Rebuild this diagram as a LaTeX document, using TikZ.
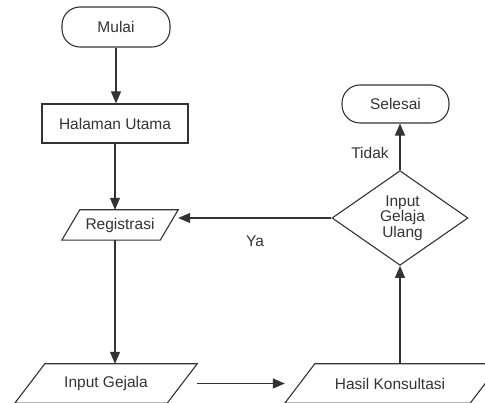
\documentclass[tikz,border=0pt]{standalone}
\usepackage{fontspec}
\setmainfont{Liberation Sans}
\usetikzlibrary{arrows.meta,shapes.geometric}
\definecolor{ln}{HTML}{333333}
\begin{document}
\begin{tikzpicture}[x=1pt,y=-1pt,
  every node/.style={font=\fontsize{15.5}{15.5}\selectfont, text=ln, inner sep=0pt},
  term/.style={draw=ln, line width=1.1pt, rounded corners=18pt, minimum height=40pt},
  procbox/.style={draw=ln, line width=1.1pt, minimum height=39pt},
  iobox/.style={draw=none, minimum height=39pt},
  decis/.style={draw=ln, line width=1.1pt, diamond, minimum width=136pt, minimum height=90pt, align=center},
  outline/.style={draw=ln, line width=1.1pt},
  conn/.style={draw=ln, line width=1.1pt, -{Triangle[length=12pt,width=10pt]}}
]
\useasboundingbox (0,0) rectangle (485,403);
\node[term, minimum width=108pt] (mulai) at (116,27) {Mulai};
\node[procbox, minimum width=146pt] (hal) at (115,123.5) {Halaman Utama};
\node[iobox, minimum width=116pt, minimum height=30pt] (reg) at (120,225) {Registrasi};
\draw[outline] ([xshift=18pt]reg.north west) -- (reg.north east) -- ([xshift=-18pt]reg.south east) -- (reg.south west) -- cycle;
\node[iobox, minimum width=182pt] (ig) at (106,383.5) {Input Gejala};
\draw[outline] ([xshift=30pt]ig.north west) -- (ig.north east) -- ([xshift=-30pt]ig.south east) -- (ig.south west) -- cycle;
\node[iobox, minimum width=215pt] (hk) at (392.5,383.5) {\hspace*{-5pt}Hasil Konsultasi};
\draw[outline] ([xshift=30pt]hk.north west) -- (hk.north east) -- ([xshift=-30pt]hk.south east) -- (hk.south west) -- cycle;
\node[decis] (dia) at (400,218) {\hspace*{5pt}Input\\\hspace*{5pt}Gelaja\\\hspace*{5pt}Ulang};
\node[term, minimum width=107pt, minimum height=38pt] (sel) at (395.5,104) {Selesai};
\node (tidak) at (370,153) {Tidak};
\node (ya) at (255,241) {Ya};

\draw[conn] (mulai.south) -- (mulai.south |- hal.north);
\draw[conn] (hal.south) -- (hal.south |- reg.north);
\draw[conn] (hal.south |- reg.south) -- (hal.south |- ig.north);
\draw[conn] (ig.east) -- (hk.west);
\draw[conn] (dia.south |- hk.north) -- (dia.south);
\draw[conn] (dia.north) -- (dia.north |- sel.south);
\draw[conn] (dia.west) -- (dia.west -| reg.east);
\end{tikzpicture}
\end{document}
